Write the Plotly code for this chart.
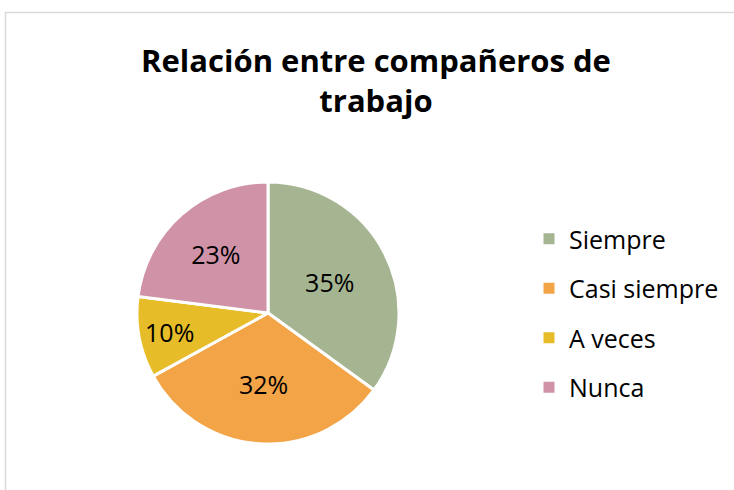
import plotly.graph_objects as go

categories = ["Siempre", "Casi siempre", "A veces", "Nunca"]
values = [35, 32, 10, 23]
colors = ["#A5B592", "#F3A447", "#E7BC29", "#D092A7"]

W, H = 734, 490
cx, cy, r = 268, 313, 131
FONT = "Open Sans"

fig = go.Figure()
fig.add_trace(go.Pie(
    labels=categories, values=values, sort=False, direction="clockwise", rotation=0,
    marker=dict(colors=colors, line=dict(color="white", width=3)),
    textinfo="percent", textposition="inside", insidetextorientation="horizontal",
    textfont=dict(family=FONT, size=25, color="black"),
    showlegend=False, hoverinfo="label+percent",
    domain=dict(x=[(cx - r) / W, (cx + r) / W], y=[1 - (cy + r) / H, 1 - (cy - r) / H]),
))
for name, col in zip(categories, colors):
    fig.add_trace(go.Scatter(
        x=[None], y=[None], mode="markers", name=name, legendgroup=name,
        marker=dict(symbol="square", size=11, color=col),
    ))

fig.update_layout(
    width=W, height=H, margin=dict(l=0, r=0, t=0, b=0),
    paper_bgcolor="white", plot_bgcolor="white",
    title=dict(text="<b>Relación entre compañeros de<br>trabajo</b>", x=376 / W, xanchor="center",
               y=1 - 72 / H, yanchor="top", font=dict(family=FONT, size=31, color="black")),
    xaxis=dict(visible=False), yaxis=dict(visible=False),
    legend=dict(x=529 / W, xanchor="left", y=1 - 313 / H, yanchor="middle",
                font=dict(family=FONT, size=25, color="black"), tracegroupgap=14,
                bgcolor="rgba(0,0,0,0)"),
    uniformtext=dict(minsize=25, mode="show"),
    shapes=[dict(type="rect", xref="paper", yref="paper", x0=5.5 / W, x1=1.05, y0=-0.05, y1=1 - 12.5 / H,
                 line=dict(color="#D9D9D9", width=1.5), fillcolor="rgba(0,0,0,0)", layer="below")],
)
fig.write_html("out.html", config={"displayModeBar": False},
               post_script="document.body.style.margin='0';document.body.style.overflow='hidden';")
